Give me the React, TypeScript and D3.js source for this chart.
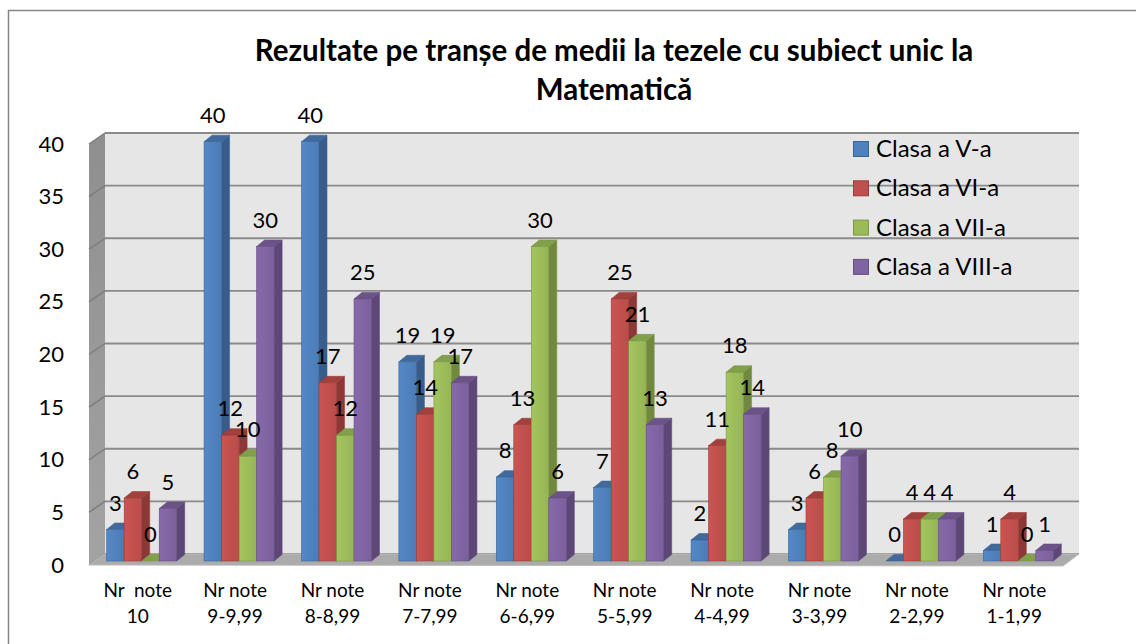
import React from 'react'
import * as d3 from 'd3'

const categories = [
  'Nr  note\n10',
  'Nr note\n9-9,99',
  'Nr note\n8-8,99',
  'Nr note\n7-7,99',
  'Nr note\n6-6,99',
  'Nr note\n5-5,99',
  'Nr note\n4-4,99',
  'Nr note\n3-3,99',
  'Nr note\n2-2,99',
  'Nr note\n1-1,99',
]
const seriesNames = ['Clasa a V-a', 'Clasa a VI-a', 'Clasa a VII-a', 'Clasa a VIII-a']
const clasaV = [3, 40, 40, 19, 8, 7, 2, 3, 0, 1]
const clasaVI = [6, 12, 17, 14, 13, 25, 11, 6, 4, 4]
const clasaVII = [0, 10, 12, 19, 30, 21, 18, 8, 4, 0]
const clasaVIII = [5, 30, 25, 17, 6, 13, 14, 10, 4, 1]
const yTicks = [0, 5, 10, 15, 20, 25, 30, 35, 40]
const titleLines = ['Rezultate pe tranșe de medii la tezele cu subiect unic la', 'Matematică']

const seriesValues = [clasaV, clasaVI, clasaVII, clasaVIII]
// front / side / top shades per series
const colors = [
  { front: '#4f81bd', side: '#385d8a', top: '#41699b', edge: '#3a6494' },
  { front: '#c0504d', side: '#8c3836', top: '#a3403d', edge: '#9b3d3a' },
  { front: '#9bbb59', side: '#71893f', top: '#80a04a', edge: '#7a9646' },
  { front: '#8064a2', side: '#5c4776', top: '#6b5388', edge: '#654e83' },
]

const W = 1136
const H = 644
const FONT = 'Lato, "Open Sans", sans-serif'

export default function App() {
  // floor front edge for the category labels
  const xFront = d3.scaleBand<string>().domain(categories).range([89, 1063])
  // bar groups
  const xBars = d3.scaleBand<string>().domain(categories).range([93, 1067]).paddingInner(0.281).paddingOuter(0.1405)
  const xSeries = d3.scaleBand<string>().domain(seriesNames).range([0, xBars.bandwidth()])
  const yWall = d3.scaleLinear().domain([0, 40]).range([554, 133])
  const yBar = d3.scaleLinear().domain([0, 40]).range([561, 141.7])

  const wallBackX = 105
  const wallFrontX = 89
  const wallRightX = 1079
  const wallDy = 11
  const DX = 8
  const DY = -6.5

  const pts = (arr: number[][]) => arr.map(p => p.join(',')).join(' ')

  const bars: any[] = []
  const labels: any[] = []
  categories.forEach((cat, ci) => {
    seriesNames.forEach((s, si) => {
      const v = seriesValues[si][ci]
      const c = colors[si]
      const x0 = (xBars(cat) as number) + (xSeries(s) as number)
      const w = xSeries.bandwidth()
      const y0 = yBar(v)
      const yb = yBar(0)
      const key = `${ci}-${si}`
      bars.push(
        <g key={key}>
          {v > 0 && (
            <polygon
              points={pts([[x0 + w, y0], [x0 + w + DX, y0 + DY], [x0 + w + DX, yb + DY], [x0 + w, yb]])}
              fill={c.side}
              stroke={c.edge}
              strokeWidth={0.6}
            />
          )}
          <polygon
            points={pts([[x0, y0], [x0 + DX, y0 + DY], [x0 + w + DX, y0 + DY], [x0 + w, y0]])}
            fill={c.top}
            stroke={c.edge}
            strokeWidth={0.6}
          />
          {v > 0 && (
            <rect x={x0} y={y0} width={w} height={yb - y0} fill={`url(#grad${si})`} stroke={c.edge} strokeWidth={0.6} />
          )}
        </g>
      )
      labels.push(
        <text key={key} x={x0 + w / 2} y={y0 - 19} textAnchor="middle" fontSize={22} fontFamily={FONT} fill="#000">
          {v}
        </text>
      )
    })
  })

  return (
    <svg width={W} height={H} style={{ position: 'absolute', left: 0, top: 0, background: '#fff' }}>
      <defs>
        {colors.map((c, i) => (
          <linearGradient key={i} id={`grad${i}`} x1="0" x2="1" y1="0" y2="0">
            <stop offset="0" stopColor={d3.color(c.front)!.brighter(0.15).toString()} />
            <stop offset="1" stopColor={d3.color(c.front)!.darker(0.1).toString()} />
          </linearGradient>
        ))}
        <linearGradient id="leftWall" x1="0" x2="0" y1="0" y2="1">
          <stop offset="0" stopColor="#8f8f8f" />
          <stop offset="1" stopColor="#a3a3a3" />
        </linearGradient>
      </defs>

      {/* chart border */}
      <rect x={8.5} y={10.5} width={1300} height={800} fill="#fff" stroke="#878787" strokeWidth={1.5} />

      {/* walls */}
      <rect x={wallBackX} y={yWall(40)} width={wallRightX - wallBackX} height={yWall(0) - yWall(40)} fill="#e6e6e6" />
      <polygon
        points={pts([[wallFrontX, yWall(40) + wallDy], [wallBackX, yWall(40)], [wallBackX, yWall(0)], [wallFrontX, yWall(0) + wallDy]])}
        fill="url(#leftWall)"
      />
      {yTicks.map(t => (
        <g key={t}>
          <line x1={wallBackX} x2={wallRightX} y1={yWall(t)} y2={yWall(t)} stroke="#8a8a8a" strokeWidth={1.8} />
          <line x1={wallFrontX} x2={wallBackX} y1={yWall(t) + wallDy} y2={yWall(t)} stroke="#7d7d7d" strokeWidth={1.5} />
          <text x={64} y={yWall(t) + wallDy + 7.5} textAnchor="end" fontSize={22} fontFamily={FONT} fill="#000">
            {t}
          </text>
        </g>
      ))}
      {/* floor */}
      <polygon
        points={pts([[wallFrontX, yWall(0) + wallDy], [wallBackX, yWall(0)], [wallRightX, yWall(0)], [wallRightX - 16, yWall(0) + wallDy + 1]])}
        fill="#ababab"
        stroke="#bdbdbd"
        strokeWidth={1}
      />

      {bars}
      {labels}

      {/* category labels */}
      {categories.map(cat => {
        const [l1, l2] = cat.split('\n')
        const cx = (xFront(cat) as number) + xFront.bandwidth() / 2
        return (
          <text key={cat} textAnchor="middle" fontSize={19} fontFamily={FONT} fill="#000" style={{ whiteSpace: 'pre' }}>
            <tspan x={cx} y={597}>{l1}</tspan>
            <tspan x={cx} y={623}>{l2}</tspan>
          </text>
        )
      })}

      {/* legend */}
      {seriesNames.map((s, i) => {
        const cy = 149 + i * 39.3
        return (
          <g key={s}>
            <rect x={853.5} y={cy - 7.5} width={15} height={15} fill={colors[i].front} stroke={colors[i].edge} strokeWidth={1} />
            <text x={876} y={cy + 8} fontSize={24} fontFamily={FONT} fill="#000">
              {s}
            </text>
          </g>
        )
      })}

      {/* title */}
      <text textAnchor="middle" fontSize={29.5} fontWeight="bold" fontFamily={FONT} fill="#000">
        <tspan x={614} y={61}>{titleLines[0]}</tspan>
        <tspan x={614} y={100}>{titleLines[1]}</tspan>
      </text>
    </svg>
  )
}
